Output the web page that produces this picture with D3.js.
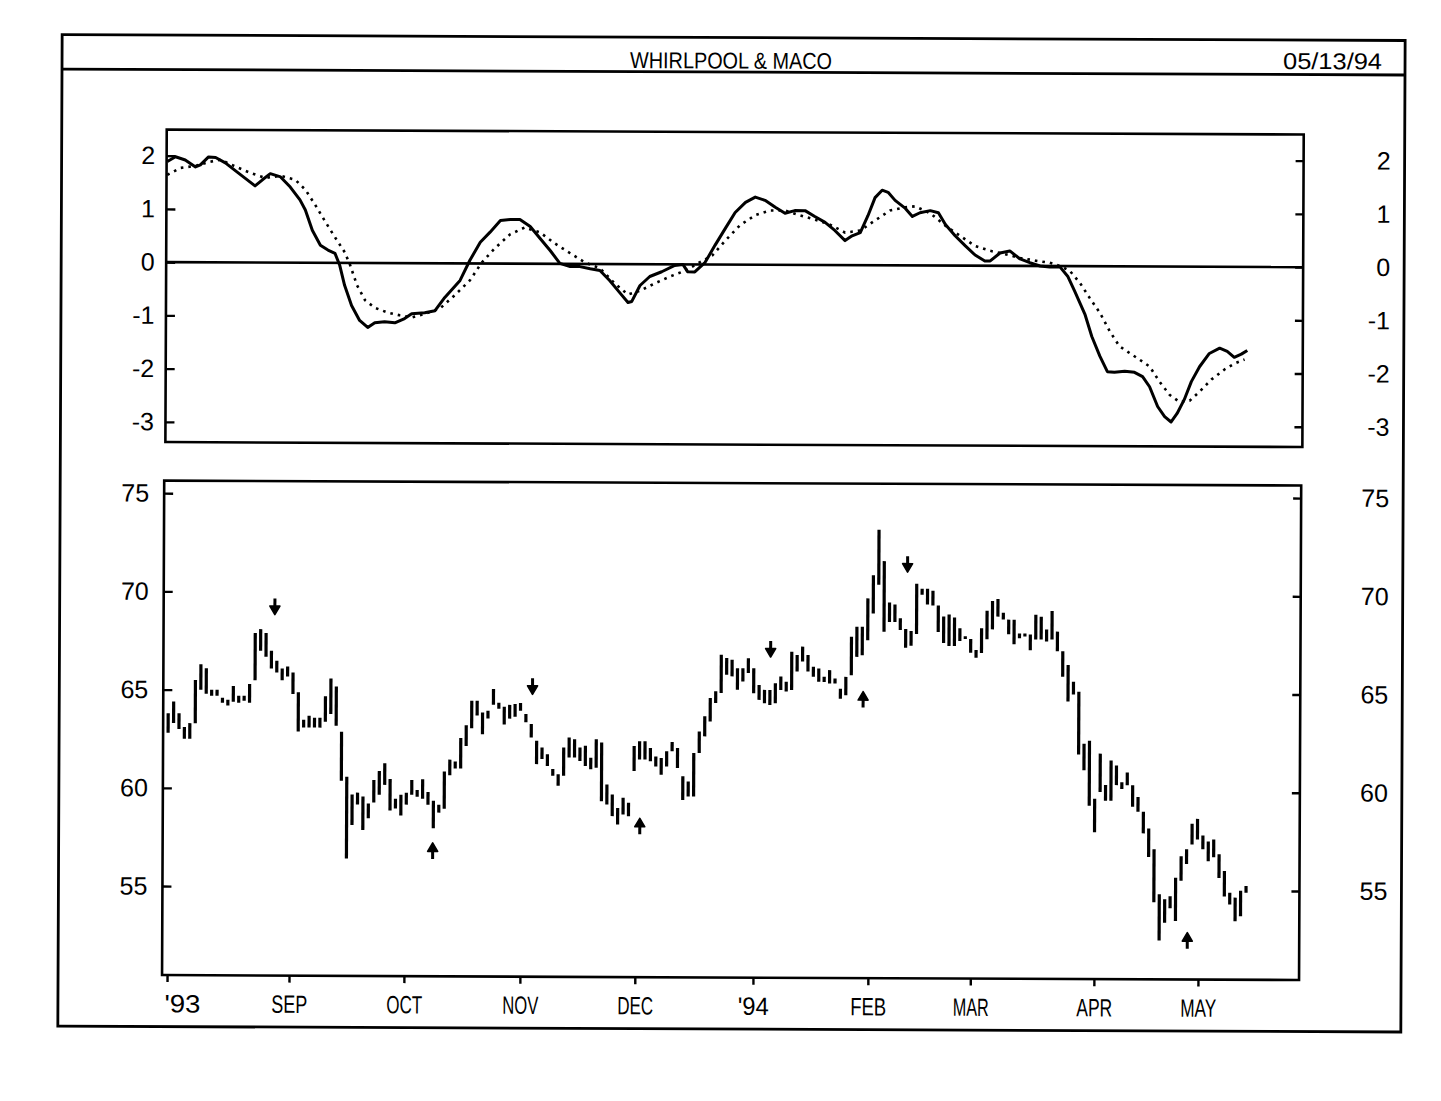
<!DOCTYPE html>
<html><head><meta charset="utf-8">
<script src="https://cdn.jsdelivr.net/npm/d3@7"></script>
<style>
html,body{margin:0;padding:0;background:#fff;}
svg{display:block;}
</style></head>
<body>
<svg id="c" width="1441" height="1101"></svg>
<script>
// ---------- data ----------
const titleText = "WHIRLPOOL & MACO";
const dateText = "05/13/94";
const monthLabels = ["'93","SEP","OCT","NOV","DEC","'94","FEB","MAR","APR","MAY"];
const monthTickIdx = [0, 22.5, 43.7, 65.1, 86.3, 108.1, 129.3, 148.2, 171, 190.2];
const priceTicks = [55, 60, 65, 70, 75];
const oscTicks = [-3, -2, -1, 0, 1, 2];

const barHigh = [
63.8,64.4,63.8,63.1,63.3,65.5,66.3,66.1,65.0,65.0,
64.6,64.5,65.2,64.7,64.7,65.3,67.9,68.1,67.9,67.0,
66.5,66.1,66.2,65.9,64.9,63.5,63.7,63.6,63.6,64.7,
65.6,65.2,62.9,60.6,59.7,59.8,59.6,59.25,60.45,60.9,
61.3,60.5,59.5,59.7,59.8,60.45,59.95,60.5,59.85,59.4,
59.2,60.9,61.5,61.4,62.6,63.25,64.5,64.5,63.9,64.0,
65.1,64.4,64.2,64.3,64.35,64.4,63.84,63.33,62.48,62.14,
61.8,61.04,60.78,62.14,62.65,62.57,62.14,62.24,61.63,62.57,
62.4,60.27,59.76,59.08,59.6,59.34,62.23,62.48,62.48,62.14,
61.7,61.63,61.97,62.45,62.14,60.7,60.44,61.89,62.99,63.76,
64.69,65.04,66.9,66.73,66.65,66.22,66.22,66.73,66.22,65.37,
65.12,65.12,65.46,65.8,65.54,67.07,66.9,67.33,66.9,66.31,
66.22,65.8,66.14,65.71,65.2,65.8,67.84,68.35,68.35,69.8,
70.98,73.3,71.7,69.6,69.5,68.8,68.25,68.15,70.55,70.3,
70.3,70.2,69.45,68.9,69.0,68.85,68.3,67.9,67.75,67.2,
68.3,69.2,69.7,69.8,69.1,68.75,68.75,68.05,68.05,68.0,
69.0,68.9,68.25,69.2,68.15,67.15,66.45,65.6,65.1,62.45,
62.6,59.65,61.95,60.35,61.6,61.35,60.5,61.0,60.35,59.75,
59.0,58.15,57.1,54.8,54.55,54.7,55.65,56.75,57.1,58.4,
58.65,57.8,57.5,57.6,56.85,56.0,54.9,54.65,55.0,55.25
];
const barLow = [
62.8,63.3,63.0,62.5,62.5,63.3,65.0,64.8,64.7,64.7,
64.35,64.2,64.4,64.35,64.45,64.35,65.5,67.0,66.7,66.1,
65.9,65.5,65.7,64.8,62.9,63.1,63.1,63.1,63.1,63.4,
63.8,63.2,60.4,56.45,58.15,59.2,57.9,58.5,59.3,59.7,
60.2,58.9,59.0,58.65,59.2,59.7,59.6,59.5,59.2,58.0,
58.8,59.0,60.7,61.05,61.05,62.2,63.1,63.75,62.8,63.6,
64.3,64.1,63.3,63.6,63.7,64.0,63.42,62.65,61.29,61.55,
61.2,60.7,60.19,60.7,61.63,61.63,61.46,61.2,61.04,61.12,
59.42,59.25,58.66,58.23,58.74,58.66,60.96,61.55,61.55,61.46,
61.2,60.78,61.2,61.97,61.12,59.5,59.68,59.68,61.89,62.74,
63.5,64.44,64.95,65.88,65.8,65.12,65.54,65.97,64.95,64.61,
64.44,64.35,64.44,65.12,65.04,65.12,66.06,66.57,66.06,65.8,
65.54,65.54,65.46,65.46,64.69,64.86,65.88,66.82,66.9,67.67,
69.03,70.5,68.1,68.6,68.6,68.2,67.3,67.4,68.0,70.0,
69.5,69.45,68.1,67.55,67.4,67.4,67.65,67.75,67.05,66.8,
67.05,67.75,68.25,68.9,68.75,68.0,67.5,67.8,67.9,67.2,
67.75,67.75,67.65,67.75,67.15,65.85,64.6,64.95,61.9,61.1,
59.3,57.95,60.0,59.55,59.55,60.35,60.15,60.35,59.25,59.0,
57.9,56.7,54.4,52.45,53.35,54.1,53.45,55.5,56.35,57.35,
57.6,57.1,56.5,56.7,55.65,54.7,54.3,53.45,53.7,54.9
];

// oscillator (solid) sampled at bar-index positions
const oscIdx = [-0.6,0.9,2.7,4.6,5.5,7.0,8.3,10.1,12.9,15.6,16.9,18.4,20.3,22.1,23.9,24.9,26.2,27.7,29.1,30.4,31.3,32.2,33.5,35.0,36.5,37.8,39.6,41.5,43.3,44.6,47.0,48.9,50.7,53.5,55.3,57.2,59.0,60.9,62.7,64.5,66.4,68.2,70.1,71.9,73.8,75.6,77.5,79.3,81.1,83.0,84.5,85.2,86.7,88.5,90.7,93.1,94.6,95.5,96.8,98.7,100.5,102.4,104.2,106.1,107.9,109.7,111.6,113.4,115.2,117.1,118.9,120.8,122.6,124.5,125.8,127.3,128.7,130.0,131.3,132.4,133.7,135.6,136.9,138.3,140.2,141.7,143.0,144.8,146.7,148.5,150.3,151.3,153.1,154.9,156.8,158.6,160.5,162.3,164.2,165.6,166.9,168.8,170.1,171.6,173.0,174.3,176.2,178.0,179.5,180.8,182.3,183.6,184.8,185.9,187.2,188.5,190.0,191.8,193.7,195.1,196.4,197.7,198.8];
const oscVal = [1.89,1.98,1.92,1.79,1.83,1.98,1.97,1.87,1.65,1.44,1.55,1.67,1.61,1.42,1.18,0.99,0.61,0.33,0.24,0.18,-0.05,-0.42,-0.80,-1.08,-1.21,-1.12,-1.10,-1.12,-1.04,-0.95,-0.93,-0.89,-0.64,-0.32,0.06,0.40,0.59,0.81,0.83,0.83,0.70,0.48,0.25,0.01,-0.05,-0.05,-0.09,-0.12,-0.31,-0.54,-0.72,-0.70,-0.40,-0.23,-0.14,-0.02,0.00,-0.14,-0.14,0.04,0.36,0.68,0.98,1.17,1.27,1.21,1.08,0.97,1.02,1.02,0.91,0.80,0.65,0.46,0.55,0.61,0.93,1.27,1.41,1.37,1.22,1.07,0.92,0.99,1.03,0.99,0.77,0.56,0.37,0.20,0.09,0.09,0.24,0.28,0.13,0.06,0.00,-0.02,-0.02,-0.19,-0.47,-0.90,-1.32,-1.69,-1.98,-1.99,-1.97,-1.99,-2.07,-2.26,-2.63,-2.82,-2.92,-2.76,-2.50,-2.16,-1.88,-1.63,-1.53,-1.59,-1.70,-1.64,-1.57];

// signal (dotted)
const sigIdx = [-0.6,1.8,4.6,7.3,9.2,12.0,14.8,17.5,20.3,23.0,24.9,26.7,28.6,30.4,32.2,33.2,34.5,36.0,37.8,40.2,42.4,44.6,47.0,49.8,52.5,55.3,57.5,59.9,62.7,65.4,68.2,71.0,73.8,76.5,79.3,82.1,84.5,86.7,89.4,92.2,95.0,97.7,100.0,102.4,105.1,107.9,110.7,113.4,116.2,119.0,121.7,124.5,127.3,130.0,132.8,135.6,137.4,140.2,143.0,145.7,148.5,151.3,154.0,156.8,159.6,162.3,164.2,166.0,167.9,169.7,171.6,173.4,175.2,177.1,178.9,180.8,182.6,184.5,186.3,188.2,190.0,192.2,194.6,196.4,198.3];
const sigVal = [1.64,1.77,1.81,1.89,1.93,1.80,1.68,1.59,1.63,1.56,1.37,1.09,0.77,0.48,0.20,-0.04,-0.42,-0.70,-0.84,-0.93,-0.98,-1.02,-0.95,-0.85,-0.60,-0.32,0.02,0.29,0.55,0.68,0.59,0.38,0.20,0.03,-0.08,-0.37,-0.57,-0.50,-0.36,-0.23,-0.12,0.04,0.17,0.45,0.74,0.93,1.02,1.02,0.93,0.85,0.76,0.61,0.65,0.84,1.03,1.09,1.11,0.98,0.75,0.56,0.37,0.28,0.22,0.15,0.10,0.06,0.00,-0.09,-0.32,-0.60,-0.88,-1.22,-1.50,-1.63,-1.75,-1.88,-2.16,-2.41,-2.54,-2.52,-2.35,-2.12,-1.93,-1.82,-1.74];

// buy / sell arrows
const arrowIdx = [19.6, 48.9, 67.2, 87.1, 111.1, 128.2, 136.3, 188.2];
const arrowPrice = [69.2, 56.9, 65.2, 58.2, 67.15, 64.7, 71.5, 52.5];
const arrowDir = ["down","up","down","up","down","up","down","up"];

// ---------- layout ----------
const W = 1441, H = 1101;
const FONT = "'Liberation Sans', Arial, sans-serif";
const frame = {x0: 60, y0: 37.5, x1: 1403, y1: 1029};
const titleBarY = 72;
const up = {x0: 165, x1: 1302, y0: 132, y1: 444.5};
const lo = {x0: 164, x1: 1301, y0: 483, y1: 977.5};
const rightLabelX = 1389;

const svg = d3.select("#c");
svg.append("rect").attr("width", W).attr("height", H).attr("fill", "#fff");
const g = svg.append("g").attr("transform", "rotate(0.25,720,530)");

const x = d3.scaleLinear().domain([0, barHigh.length - 1]).range([169, 1247.6]);
const yU = d3.scaleLinear().domain([-3.38, 2.49]).range([up.y1, up.y0]);
const yL = d3.scaleLinear().domain([50.47, 75.64]).range([lo.y1, lo.y0]);
const numFmt = d => String(d);   // plain hyphen minus, as in the original

// outer frame + title bar
g.append("rect").attr("x", frame.x0).attr("y", frame.y0)
  .attr("width", frame.x1 - frame.x0).attr("height", frame.y1 - frame.y0)
  .attr("fill", "none").attr("stroke", "#000").attr("stroke-width", 2.8);
g.append("line").attr("x1", frame.x0).attr("x2", frame.x1)
  .attr("y1", titleBarY).attr("y2", titleBarY)
  .attr("stroke", "#000").attr("stroke-width", 2.8);
g.append("text").attr("x", 729).attr("y", 68.5).attr("text-anchor", "middle")
  .attr("textLength", 202).attr("lengthAdjust", "spacingAndGlyphs")
  .style("font-family", FONT).style("font-size", "23px").text(titleText);
g.append("text").attr("x", 1380).attr("y", 66.5).attr("text-anchor", "end")
  .attr("textLength", 99).attr("lengthAdjust", "spacingAndGlyphs")
  .style("font-family", FONT).style("font-size", "23px").text(dateText);

function styleAxis(sel) {
  sel.select(".domain").remove();
  sel.selectAll(".tick line").attr("stroke", "#000").attr("stroke-width", 2.4);
  sel.selectAll("text").attr("fill", "#000")
    .style("font-family", FONT).style("font-size", "25px");
}

// ----- upper panel -----
g.append("g").attr("transform", `translate(${up.x0},0)`)
  .call(d3.axisLeft(yU).tickValues(oscTicks).tickSizeInner(-9).tickSizeOuter(0).tickPadding(11.5).tickFormat(numFmt))
  .call(styleAxis);
g.append("g").attr("transform", `translate(${up.x1},0)`)
  .call(d3.axisRight(yU).tickValues(oscTicks).tickSizeInner(-8).tickSizeOuter(0).tickPadding(0).tickFormat(numFmt))
  .call(styleAxis)
  .call(s => s.selectAll("text").attr("text-anchor", "end").attr("x", rightLabelX - up.x1));

g.append("line").attr("x1", up.x0).attr("x2", up.x1)
  .attr("y1", yU(0)).attr("y2", yU(0))
  .attr("stroke", "#000").attr("stroke-width", 2.6);

const oscLine = d3.line().x(d => x(d[0])).y(d => yU(d[1]));
g.append("path").datum(sigIdx.map((v, i) => [v, sigVal[i]]))
  .attr("d", oscLine).attr("fill", "none").attr("stroke", "#000")
  .attr("stroke-width", 2.6).attr("stroke-dasharray", "2.6 5");
g.append("path").datum(oscIdx.map((v, i) => [v, oscVal[i]]))
  .attr("d", oscLine).attr("fill", "none").attr("stroke", "#000")
  .attr("stroke-width", 3.0).attr("stroke-linejoin", "round");

g.append("rect").attr("x", up.x0).attr("y", up.y0)
  .attr("width", up.x1 - up.x0).attr("height", up.y1 - up.y0)
  .attr("fill", "none").attr("stroke", "#000").attr("stroke-width", 2.6);

// ----- lower panel -----
g.append("g").attr("transform", `translate(${lo.x0},0)`)
  .call(d3.axisLeft(yL).tickValues(priceTicks).tickSizeInner(-9).tickSizeOuter(0).tickPadding(15).tickFormat(numFmt))
  .call(styleAxis);
g.append("g").attr("transform", `translate(${lo.x1},0)`)
  .call(d3.axisRight(yL).tickValues(priceTicks).tickSizeInner(-8).tickSizeOuter(0).tickPadding(0).tickFormat(numFmt))
  .call(styleAxis)
  .call(s => s.selectAll("text").attr("text-anchor", "end").attr("x", rightLabelX - lo.x1));

g.append("g").attr("transform", `translate(0,${lo.y1})`)
  .call(d3.axisBottom(x).tickValues(monthTickIdx).tickSizeInner(7).tickSizeOuter(0).tickPadding(12.5)
        .tickFormat((d, i) => monthLabels[i]))
  .call(styleAxis)
  .call(s => {
    s.selectAll("text").attr("textLength", (d, i) => i === 5 ? 31 : 36)
      .attr("lengthAdjust", "spacingAndGlyphs");
    s.selectAll("text").filter((d, i) => i === 0).attr("text-anchor", "start").attr("x", -3);
  });

// price bars
g.append("g").selectAll("line").data(barHigh).join("line")
  .attr("x1", (d, i) => x(i)).attr("x2", (d, i) => x(i))
  .attr("y1", d => yL(d)).attr("y2", (d, i) => yL(barLow[i]))
  .attr("stroke", "#000").attr("stroke-width", 3.2);

// arrows
const arrows = g.append("g");
arrowIdx.forEach((ai, i) => {
  const cx = x(ai), cy = yL(arrowPrice[i]);
  const s = arrowDir[i] === "down" ? 1 : -1;
  arrows.append("line").attr("x1", cx).attr("x2", cx)
    .attr("y1", cy - 9 * s).attr("y2", cy).attr("stroke", "#000").attr("stroke-width", 3);
  arrows.append("path")
    .attr("d", `M${cx - 5},${cy - 1.5 * s} L${cx + 5},${cy - 1.5 * s} L${cx},${cy + 7 * s} Z`)
    .attr("fill", "#000").attr("stroke", "#000").attr("stroke-width", 1.6).attr("stroke-linejoin", "round");
});

g.append("rect").attr("x", lo.x0).attr("y", lo.y0)
  .attr("width", lo.x1 - lo.x0).attr("height", lo.y1 - lo.y0)
  .attr("fill", "none").attr("stroke", "#000").attr("stroke-width", 2.6);
</script>
</body></html>
